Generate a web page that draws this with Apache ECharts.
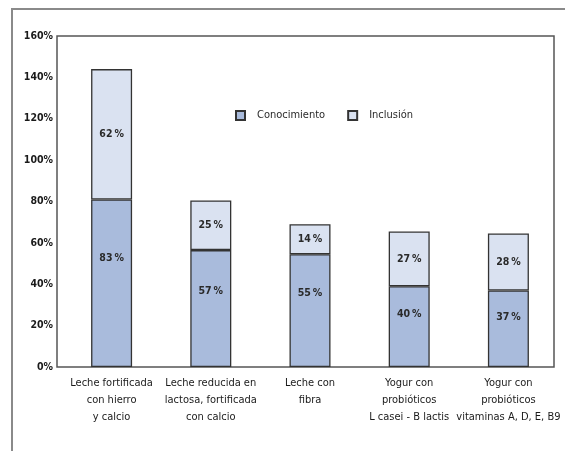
<!DOCTYPE html>
<html>
<head>
<meta charset="utf-8">
<script src="https://cdn.jsdelivr.net/npm/echarts@6/dist/echarts.min.js"></script>
<style>
html,body{margin:0;padding:0;background:#fff;}
#chart{width:565px;height:451px;}
</style>
</head>
<body>
<div id="chart"></div>
<script>
const categories = [
  'Leche fortificada\ncon hierro\ny calcio',
  'Leche reducida en\nlactosa, fortificada\ncon calcio',
  'Leche con\nfibra',
  'Yogur con\nprobióticos\nL casei - B lactis',
  'Yogur con\nprobióticos\nvitaminas A, D, E, B9'
];
// drawn heights
const conocimiento = [81, 56.5, 54.5, 39, 37];
const inclusion = [63, 24, 14.5, 26.5, 27.5];
// printed labels
const conocimientoLabels = [83, 57, 55, 40, 37];
const inclusionLabels = [62, 25, 14, 27, 28];
const yTicks = [0, 20, 40, 60, 80, 100, 120, 140, 160];

const FONT = '"DejaVu Sans Condensed", "DejaVu Sans", sans-serif';
const FW = 'condensed';
const FWB = 'bold condensed';
const TXT = '#1a1a1a';
const chart = echarts.init(document.getElementById('chart'), null, {renderer: 'canvas'});

chart.setOption({
  animation: false,
  backgroundColor: '#fff',
  textStyle: {fontFamily: FONT},
  grid: {left: 62, right: 7, top: 36, bottom: 84},
  legend: {
    left: 235, top: 110, icon: 'rect', padding: 0,
    itemWidth: 9, itemHeight: 9, itemGap: 22,
    textStyle: {fontFamily: FONT, fontWeight: FW, fontSize: 11, color: '#2a2a2a', padding: [0, 0, 0, 7]},
    data: ['Conocimiento', 'Inclusión']
  },
  xAxis: {
    type: 'category',
    data: categories,
    axisLine: {show: false},
    axisTick: {show: false},
    axisLabel: {
      interval: 0, margin: 8, color: TXT, fontFamily: FONT, fontSize: 11,
      lineHeight: 17, fontWeight: FW
    }
  },
  yAxis: {
    type: 'value',
    min: yTicks[0], max: yTicks[yTicks.length - 1], interval: 20,
    offset: 5,
    axisLine: {show: false},
    axisTick: {show: false},
    splitLine: {show: false},
    axisLabel: {formatter: '{value}%', color: TXT, fontFamily: FONT, fontWeight: FWB, fontSize: 10.5, margin: 4}
  },
  graphic: [
    {type: 'polyline', shape: {points: [[12, 451], [12, 9], [565, 9]]}, style: {stroke: '#8a8a8a', lineWidth: 2, fill: null}, z: 0},
    {type: 'rect', shape: {x: 57, y: 36, width: 497, height: 331}, style: {stroke: '#555', lineWidth: 1.5, fill: null}, z: 0}
  ],
  series: [
    {
      name: 'Conocimiento', type: 'bar', stack: 's', data: conocimiento,
      barWidth: 41,
      itemStyle: {color: '#a9bbdc', borderColor: '#333', borderWidth: 1.3},
      label: {
        show: true, position: ['50%', '35%'], align: 'center', verticalAlign: 'middle',
        color: '#2a2a2a', fontFamily: FONT, fontWeight: FWB, fontSize: 10.5,
        formatter: p => conocimientoLabels[p.dataIndex] + '\u2009%'
      }
    },
    {
      name: 'Inclusión', type: 'bar', stack: 's', data: inclusion,
      barWidth: 41,
      itemStyle: {color: '#dae2f1', borderColor: '#333', borderWidth: 1.3},
      label: {
        show: true, position: 'inside',
        color: '#2a2a2a', fontFamily: FONT, fontWeight: FWB, fontSize: 10.5,
        formatter: p => inclusionLabels[p.dataIndex] + '\u2009%'
      }
    }
  ]
});
</script>
</body>
</html>
